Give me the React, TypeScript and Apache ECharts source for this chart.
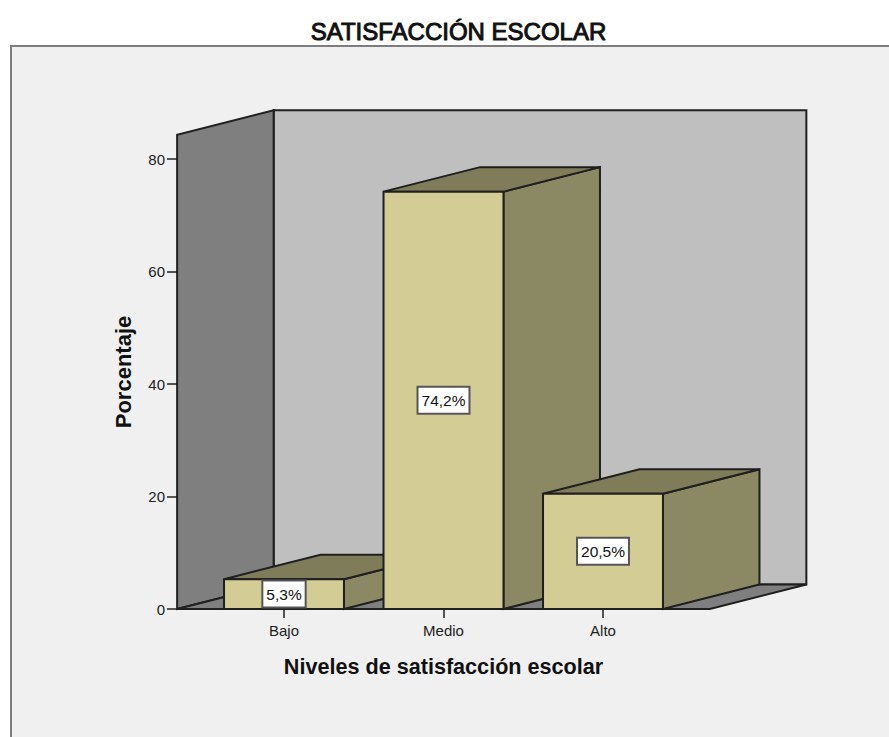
import React, { useEffect, useRef } from "react";
import * as echarts from "echarts";

const categories = ["Bajo", "Medio", "Alto"];
const percentages = [5.3, 74.2, 20.5];
const yTicksMax = 80;
const wallTopValue = 84.3;

const titleText = "SATISFACCIÓN ESCOLAR";
const xName = "Niveles de satisfacción escolar";
const yName = "Porcentaje";

const FONT = '"Liberation Sans", Arial, sans-serif';
const depthX = 96.5;
const depthY = -24.5;
const barWidthRatio = 0.752;
const floorOverhang = 0.67;
const ink = "#1f1f1f";

const fmt = (v: number) => `${v.toFixed(1).replace(".", ",")}%`;

export default function App() {
  const ref = useRef<HTMLDivElement>(null);
  useEffect(() => {
    const chart = echarts.init(ref.current!, undefined, { renderer: "svg" });
    const poly = (points: number[][], fill: string, lineWidth = 2) => ({
      type: "polygon",
      shape: { points },
      style: { fill, stroke: ink, lineWidth, lineJoin: "miter" },
    });
    chart.setOption({
      animation: false,
      backgroundColor: "#ffffff",
      title: {
        text: titleText,
        left: 453.5,
        top: 14,
        textAlign: "center",
        textStyle: {
          fontFamily: FONT,
          fontSize: 24,
          fontWeight: "normal",
          color: "#111",
          textBorderColor: "#111",
          textBorderWidth: 1,
        },
      },
      graphic: [
        {
          type: "rect",
          shape: { x: 11, y: 46, width: 920, height: 740 },
          style: { fill: "#f0f0f0", stroke: "#7d7d7d", lineWidth: 2 },
          silent: true,
        },
      ],
      grid: { left: 204.25, top: 159, width: 478.5, height: 450, containLabel: false },
      xAxis: {
        type: "category",
        data: categories,
        axisLine: { show: false },
        axisTick: { show: true, alignWithLabel: true, length: 9, lineStyle: { color: ink, width: 1.5 } },
        axisLabel: { margin: 14, fontFamily: FONT, fontSize: 15, color: "#222" },
        name: xName,
        nameLocation: "middle",
        nameGap: 46,
        nameTextStyle: { fontFamily: FONT, fontSize: 21.6, fontWeight: "bold", color: "#111" },
      },
      yAxis: {
        type: "value",
        min: 0,
        max: yTicksMax,
        interval: 20,
        offset: 27.25,
        splitLine: { show: false },
        axisLine: { show: false },
        axisTick: { show: true, length: 10, lineStyle: { color: ink, width: 1.5 } },
        axisLabel: { margin: 12, fontFamily: FONT, fontSize: 15, color: "#222" },
        name: yName,
        nameLocation: "middle",
        nameGap: 43,
        nameTextStyle: { fontFamily: FONT, fontSize: 22, fontWeight: "bold", color: "#111", padding: [0, 0, 0, 24] },
      },
      series: [
        {
          type: "custom",
          clip: false,
          silent: true,
          z: 2,
          data: [[0, 0]],
          encode: { x: 0, y: 1 },
          renderItem: (_p: any, api: any) => {
            const band = api.size([1, 0])[0];
            const first = api.coord([0, 0]);
            const last = api.coord([categories.length - 1, 0]);
            const top = api.coord([0, wallTopValue])[1];
            const x0 = first[0] - floorOverhang * band;
            const x1 = last[0] + floorOverhang * band;
            const y0 = first[1];
            return {
              type: "group",
              children: [
                poly([[x0 + depthX, y0 + depthY], [x1 + depthX, y0 + depthY], [x1 + depthX, top + depthY], [x0 + depthX, top + depthY]], "#bfbfbf"),
                poly([[x0, y0], [x0 + depthX, y0 + depthY], [x0 + depthX, top + depthY], [x0, top]], "#7f7f7f"),
                poly([[x0, y0], [x1, y0], [x1 + depthX, y0 + depthY], [x0 + depthX, y0 + depthY]], "#7f7f7f"),
              ],
            };
          },
        },
        {
          type: "custom",
          clip: false,
          silent: true,
          z: 3,
          data: percentages.map((v, i) => [i, v]),
          encode: { x: 0, y: 1 },
          renderItem: (_p: any, api: any) => {
            const i = api.value(0);
            const v = api.value(1);
            const base = api.coord([i, 0]);
            const head = api.coord([i, v]);
            const half = (api.size([1, 0])[0] * barWidthRatio) / 2;
            const l = base[0] - half;
            const r = base[0] + half;
            const b = base[1];
            const t = head[1];
            return {
              type: "group",
              children: [
                poly([[r, b], [r + depthX, b + depthY], [r + depthX, t + depthY], [r, t]], "#8b8963"),
                poly([[l, t], [r, t], [r + depthX, t + depthY], [l + depthX, t + depthY]], "#7f7d59"),
                poly([[l, b], [r, b], [r, t], [l, t]], "#d3cd95"),
                {
                  type: "text",
                  x: base[0],
                  y: (b + t) / 2,
                  z2: 10,
                  style: {
                    text: fmt(v),
                    font: `15.5px ${FONT}`,
                    fill: "#111",
                    align: "center",
                    verticalAlign: "middle",
                    backgroundColor: "#ffffff",
                    borderColor: "#555555",
                    borderWidth: 2,
                    padding: [5, 3, 4, 3],
                  },
                },
              ],
            };
          },
        },
      ],
    });
    return () => chart.dispose();
  }, []);
  return <div ref={ref} style={{ position: "absolute", left: 0, top: 0, width: 889, height: 737, overflow: "hidden" }} />;
}
